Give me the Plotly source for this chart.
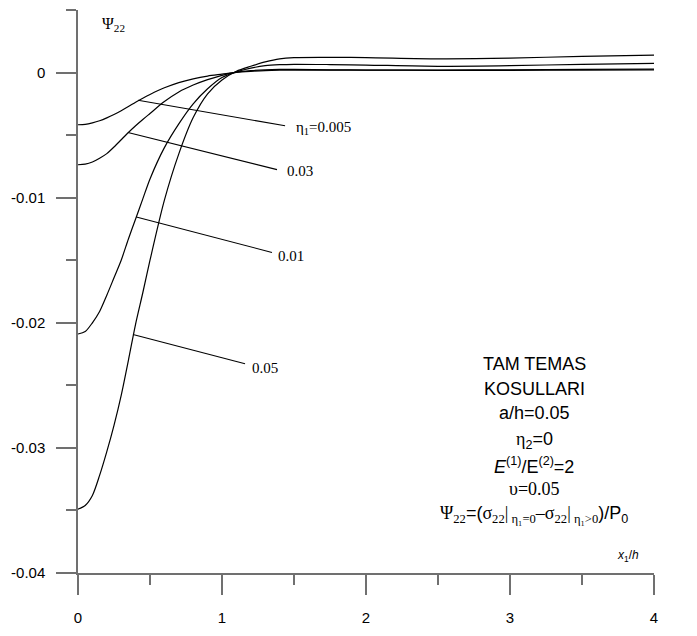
import plotly.graph_objects as go

# ---- data ----
x_vals = [0, 0.05, 0.1, 0.15, 0.2, 0.25, 0.3, 0.35, 0.4, 0.45, 0.5, 0.6, 0.7, 0.8, 0.9,
          1.0, 1.1, 1.2, 1.3, 1.4, 1.5, 1.75, 2.0, 2.5, 3.0, 3.5, 4.0]

psi_eta_0005 = [-0.00417, -0.00414, -0.00402, -0.00385, -0.00362, -0.00335, -0.00305, -0.00272,
                -0.00237, -0.00205, -0.00175, -0.00122, -0.0008, -0.0005, -0.00028, -0.00013,
                0.00002, 0.0001, 0.00016, 0.00019, 0.0002, 0.0002, 0.00019, 0.0002, 0.00022,
                0.00025, 0.00028]
psi_eta_003 = [-0.00737, -0.00732, -0.00715, -0.00685, -0.00648, -0.00595, -0.00537, -0.00479,
               -0.00425, -0.00375, -0.00327, -0.00232, -0.00155, -0.001, -0.00057, -0.00022,
               0.00003, 0.00015, 0.00022, 0.00025, 0.00025, 0.00022, 0.0002, 0.00018, 0.00018,
               0.0002, 0.00022]
psi_eta_001 = [-0.0209, -0.0207, -0.0200, -0.0191, -0.0178, -0.0164, -0.0150, -0.0133, -0.0117,
               -0.0101, -0.0085, -0.0060, -0.0041, -0.0025, -0.0013, -0.0004, 0.00005, 0.00035,
               0.00055, 0.00063, 0.00066, 0.00064, 0.0006, 0.0005, 0.00055, 0.00066, 0.00074]
psi_eta_005 = [-0.0349, -0.0346, -0.0338, -0.0322, -0.0303, -0.0282, -0.0258, -0.0230, -0.0201,
               -0.0176, -0.0150, -0.0102, -0.0065, -0.0036, -0.0017, -0.0006, 0.0001, 0.0005,
               0.00085, 0.0011, 0.0012, 0.00122, 0.0012, 0.0011, 0.00115, 0.0013, 0.0014]

series = [psi_eta_0005, psi_eta_003, psi_eta_001, psi_eta_005]

curve_labels = ["η<sub>1</sub>=0.005", "0.03", "0.01", "0.05"]
# leader lines: point on curve -> label end
leader_x0 = [0.417, 0.347, 0.405, 0.382]
leader_y0 = [-0.00222, -0.00479, -0.01155, -0.02093]
leader_x1 = [1.438, 1.382, 1.347, 1.160]
leader_y1 = [-0.00425, -0.00776, -0.01438, -0.02327]
label_x = [1.50, 1.44, 1.375, 1.194]
label_y = [-0.0044, -0.0079, -0.01465, -0.0236]

y_tickvals = [0, -0.01, -0.02, -0.03, -0.04]
y_ticktext = ["0", "-0.01", "-0.02", "-0.03", "-0.04"]
x_tickvals = [0, 1, 2, 3, 4]
x_ticktext = ["0", "1", "2", "3", "4"]

SERIF = "font-family:Liberation Serif"
info_lines = [
    "TAM TEMAS",
    "KOSULLARI",
    "a/h=0.05",
    f"<span style='{SERIF}'>η</span><sub>2</sub>=0",
    "<i>E</i><sup>(1)</sup>/E<sup>(2)</sup>=2",
    f"<span style='{SERIF}'>υ=0.05</span>",
    f"<span style='{SERIF}'>Ψ<sub>22</sub></span>=(<span style='{SERIF}'>σ<sub>22</sub>|<sub> η₁=0</sub>–σ<sub>22</sub>|<sub> η₁&gt;0</sub></span>)/P<sub>0</sub>",
]
info_y = [-0.0233, -0.0253, -0.0272, -0.0294, -0.0314, -0.0333, -0.0353]

AX = "#707070"
fig = go.Figure()
for ys in series:
    fig.add_trace(go.Scatter(x=x_vals, y=ys, mode="lines",
                             line=dict(color="black", width=1.2, shape="spline", smoothing=0.8),
                             showlegend=False, hoverinfo="skip"))

for i in range(len(curve_labels)):
    fig.add_shape(type="line", x0=leader_x0[i], y0=leader_y0[i], x1=leader_x1[i], y1=leader_y1[i],
                  xref="x", yref="y", line=dict(color="black", width=1.1))
    fig.add_annotation(x=label_x[i], y=label_y[i], text=curve_labels[i], showarrow=False,
                       xanchor="left", yanchor="middle",
                       font=dict(family="Liberation Serif", size=15, color="black"))

for t, yv in zip(info_lines, info_y):
    fig.add_annotation(x=3.17, y=yv, text=t, showarrow=False, xanchor="center", yanchor="middle",
                       font=dict(family="Liberation Sans", size=18, color="black"))

fig.add_annotation(xref="paper", yref="paper", x=0.038, y=0.974, text="Ψ<sub>22</sub>", showarrow=False,
                   xanchor="left", yanchor="middle", font=dict(family="Liberation Serif", size=16, color="black"))
fig.add_annotation(xref="paper", yref="paper", x=0.955, y=0.012, text="<i>x</i><sub>1</sub>/<i>h</i>",
                   showarrow=False, xanchor="center", yanchor="bottom",
                   font=dict(family="Liberation Sans", size=12, color="black"))

fig.update_layout(
    width=697, height=636,
    margin=dict(l=78, r=43, t=10, b=48),
    paper_bgcolor="white", plot_bgcolor="white",
    showlegend=False,
    xaxis=dict(range=[0, 4], tickvals=x_tickvals, ticktext=x_ticktext, ticks="outside", ticklen=20,
               tickcolor=AX, tickwidth=1.5, showline=True, linecolor=AX, linewidth=1.5,
               showgrid=False, zeroline=False, ticklabelstandoff=10,
               tickfont=dict(family="Liberation Sans", size=15, color="black"),
               minor=dict(dtick=0.5, tick0=0, ticks="outside", ticklen=10, tickcolor=AX, tickwidth=1.5)),
    yaxis=dict(range=[-0.04, 0.005], tickvals=y_tickvals, ticktext=y_ticktext, ticks="outside", ticklen=20,
               tickcolor=AX, tickwidth=1.5, showline=True, linecolor=AX, linewidth=1.5,
               showgrid=False, zeroline=False, ticklabelstandoff=8,
               tickfont=dict(family="Liberation Sans", size=15, color="black"),
               minor=dict(dtick=0.005, tick0=0, ticks="outside", ticklen=10, tickcolor=AX, tickwidth=1.5)),
)

fig.write_html("out.html")
